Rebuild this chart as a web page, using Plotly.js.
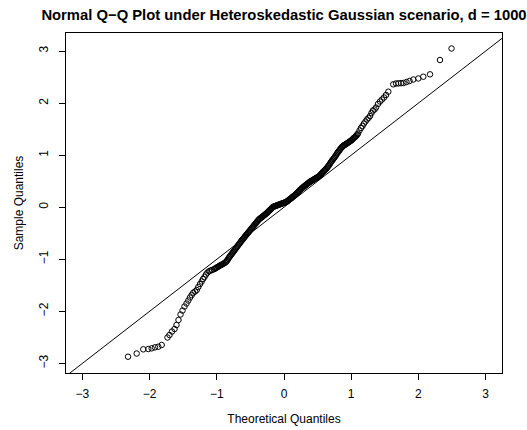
<!DOCTYPE html>
<html>
<head>
<meta charset="utf-8">
<script src="https://cdn.plot.ly/plotly-3.0.1.min.js"></script>
<style>html,body{margin:0;padding:0;background:#fff;}#chart{width:527px;height:430px;}</style>
</head>
<body>
<div id="chart"></div>
<script>
// Theoretical quantiles (x) and sample quantiles (y)
var theoretical = [
-2.321,-2.192,-2.094,-2.019,-1.969,-1.920,-1.871,-1.820,-1.734,-1.704,
-1.667,-1.629,-1.600,-1.570,-1.540,-1.510,-1.481,-1.451,-1.424,-1.399,
-1.374,-1.350,-1.324,-1.299,-1.275,-1.250,-1.225,-1.205,-1.183,-1.161,
-1.138,-1.116,-1.094,-1.071,-1.042,-1.012,-0.982,-0.952,-0.923,-0.893,
-0.863,-0.841,-0.818,-0.796,-0.774,-0.751,-0.729,-0.707,-0.685,-0.662,
-0.640,-0.618,-0.595,-0.573,-0.551,-0.528,-0.506,-0.484,-0.461,-0.439,
-0.417,-0.394,-0.372,-0.350,-0.327,-0.305,-0.283,-0.260,-0.238,-0.216,
-0.193,-0.171,-0.149,-0.126,-0.104,-0.082,-0.060,-0.037,-0.015,0.007,
0.030,0.052,0.074,0.097,0.119,0.141,0.164,0.186,0.208,0.231,
0.253,0.275,0.298,0.320,0.342,0.365,0.387,0.409,0.432,0.454,
0.476,0.499,0.521,0.543,0.565,0.588,0.610,0.632,0.655,0.677,
0.699,0.722,0.744,0.766,0.789,0.811,0.833,0.856,0.878,0.900,
0.923,0.945,0.967,0.990,1.012,1.034,1.057,1.079,1.101,1.124,
1.146,1.168,1.190,1.213,1.235,1.257,1.280,1.302,1.324,1.347,
1.369,1.399,1.429,1.458,1.488,1.518,1.552,1.626,1.667,1.704,
1.741,1.778,1.823,1.868,1.924,1.999,2.073,2.173,2.321,2.493
];
var sample = [
-2.872,-2.811,-2.730,-2.724,-2.711,-2.692,-2.680,-2.647,-2.503,-2.455,
-2.388,-2.340,-2.263,-2.167,-2.061,-1.985,-1.908,-1.850,-1.793,-1.735,
-1.687,-1.643,-1.620,-1.591,-1.533,-1.476,-1.427,-1.379,-1.341,-1.293,
-1.255,-1.232,-1.216,-1.207,-1.191,-1.168,-1.145,-1.120,-1.101,-1.078,
-1.053,-1.014,-0.966,-0.928,-0.890,-0.851,-0.813,-0.774,-0.736,-0.697,
-0.659,-0.622,-0.586,-0.549,-0.515,-0.480,-0.446,-0.409,-0.375,-0.338,
-0.304,-0.267,-0.234,-0.211,-0.188,-0.165,-0.142,-0.119,-0.090,-0.061,
-0.033,-0.004,0.015,0.025,0.035,0.046,0.056,0.067,0.079,0.088,
0.100,0.119,0.142,0.165,0.188,0.211,0.234,0.263,0.292,0.321,
0.350,0.375,0.398,0.421,0.444,0.467,0.490,0.507,0.524,0.542,
0.559,0.576,0.596,0.622,0.657,0.686,0.715,0.744,0.782,0.820,
0.868,0.907,0.945,0.984,1.032,1.070,1.109,1.147,1.176,1.195,
1.214,1.233,1.253,1.272,1.295,1.324,1.349,1.378,1.416,1.474,
1.522,1.560,1.608,1.647,1.685,1.714,1.752,1.810,1.858,1.877,
1.915,1.983,2.031,2.069,2.108,2.156,2.219,2.361,2.377,2.380,
2.383,2.386,2.405,2.425,2.453,2.473,2.507,2.553,2.828,3.049
];
// Additional points
var theoreticalBand = [
-1.027,-0.997,-0.967,-0.937,-0.908,-0.878,-0.852,-0.829,-0.807,
-0.785,-0.762,-0.740,-0.718,-0.696,-0.673,-0.651,-0.629,-0.606,-0.584,
-0.562,-0.539,-0.517,-0.495,-0.472,-0.450,-0.428,-0.405,-0.383,-0.361,
-0.338,-0.316,-0.294,-0.271,-0.249,-0.227,-0.204,-0.182,-0.160,-0.137,
-0.115,-0.093,-0.071,-0.048,-0.026,-0.004,0.018,0.041,0.063,0.085,
0.108,0.130,0.152,0.175,0.197,0.219,0.242,0.264,0.286,0.309,
0.331,0.353,0.376,0.398,0.420,0.443,0.465,0.487,0.510,0.532,
0.554,0.576,0.599,0.621,0.643,0.666,0.688,0.710,0.733,0.755,
0.777,0.800,0.822,0.844,0.867,0.889,0.911,0.934,0.956,0.978,
1.001,1.023,1.045,1.068,1.090
];
var sampleBand = [
-1.180,-1.156,-1.132,-1.110,-1.089,-1.065,-1.033,-0.990,-0.947,
-0.909,-0.870,-0.832,-0.793,-0.755,-0.716,-0.678,-0.640,-0.604,-0.567,
-0.532,-0.497,-0.463,-0.427,-0.392,-0.356,-0.321,-0.285,-0.250,-0.222,
-0.199,-0.176,-0.153,-0.130,-0.104,-0.075,-0.047,-0.018,0.005,0.020,
0.030,0.040,0.051,0.061,0.073,0.083,0.094,0.109,0.130,0.153,
0.176,0.199,0.222,0.248,0.277,0.306,0.335,0.362,0.386,0.409,
0.432,0.455,0.478,0.498,0.515,0.533,0.550,0.567,0.586,0.609,
0.639,0.671,0.700,0.729,0.763,0.801,0.844,0.887,0.926,0.964,
1.008,1.051,1.089,1.128,1.161,1.185,1.204,1.223,1.243,1.262,
1.283,1.309,1.336,1.363,1.397
];
// Reference line y = x
var refLineX = [-4, 4];
var refLineY = [-4, 4];
var tickValues = [-3, -2, -1, 0, 1, 2, 3];
var tickLabels = ['\u22123', '\u22122', '\u22121', '0', '1', '2', '3'];

var font = 'Liberation Sans, Arial, Helvetica, sans-serif';

var traces = [
  {
    x: refLineX, y: refLineY, type: 'scatter', mode: 'lines',
    line: {color: '#000', width: 1}, hoverinfo: 'skip', showlegend: false
  },
  {
    x: theoretical.concat(theoreticalBand), y: sample.concat(sampleBand),
    type: 'scatter', mode: 'markers',
    marker: {symbol: 'circle-open', size: 5.5, color: '#000', line: {color: '#000', width: 1}},
    showlegend: false
  }
];

var axisCommon = {
  showgrid: false, zeroline: false,
  showline: true, mirror: true, linecolor: '#000', linewidth: 1,
  ticks: 'outside', ticklen: 6, tickwidth: 1, tickcolor: '#000',
  tickmode: 'array', tickvals: tickValues, ticktext: tickLabels,
  tickfont: {family: font, size: 12, color: '#000'},
  automargin: false
};

var layout = {
  width: 527, height: 430,
  margin: {l: 66, r: 25, t: 33, b: 57},
  paper_bgcolor: '#fff', plot_bgcolor: '#fff',
  title: {
    text: '<b>Normal Q\u2212Q Plot under Heteroskedastic Gaussian scenario, d = 1000</b>',
    font: {family: font, size: 14.8, color: '#000'},
    xref: 'paper', x: 0.5, xanchor: 'center',
    yref: 'container', y: 1 - 15/430, yanchor: 'middle'
  },
  xaxis: Object.assign({}, axisCommon, {
    range: [-3.244, 3.244],
    ticklabelstandoff: 4,
    title: {text: 'Theoretical Quantiles', font: {family: font, size: 12, color: '#000'}, standoff: 14}
  }),
  yaxis: Object.assign({}, axisCommon, {
    range: [-3.185, 3.347],
    tickangle: -90,
    ticklabelstandoff: 6,
    title: {text: 'Sample Quantiles', font: {family: font, size: 12, color: '#000'}, standoff: 11}
  }),
  showlegend: false
};

Plotly.newPlot('chart', traces, layout, {displayModeBar: false, staticPlot: true});
</script>
</body>
</html>
